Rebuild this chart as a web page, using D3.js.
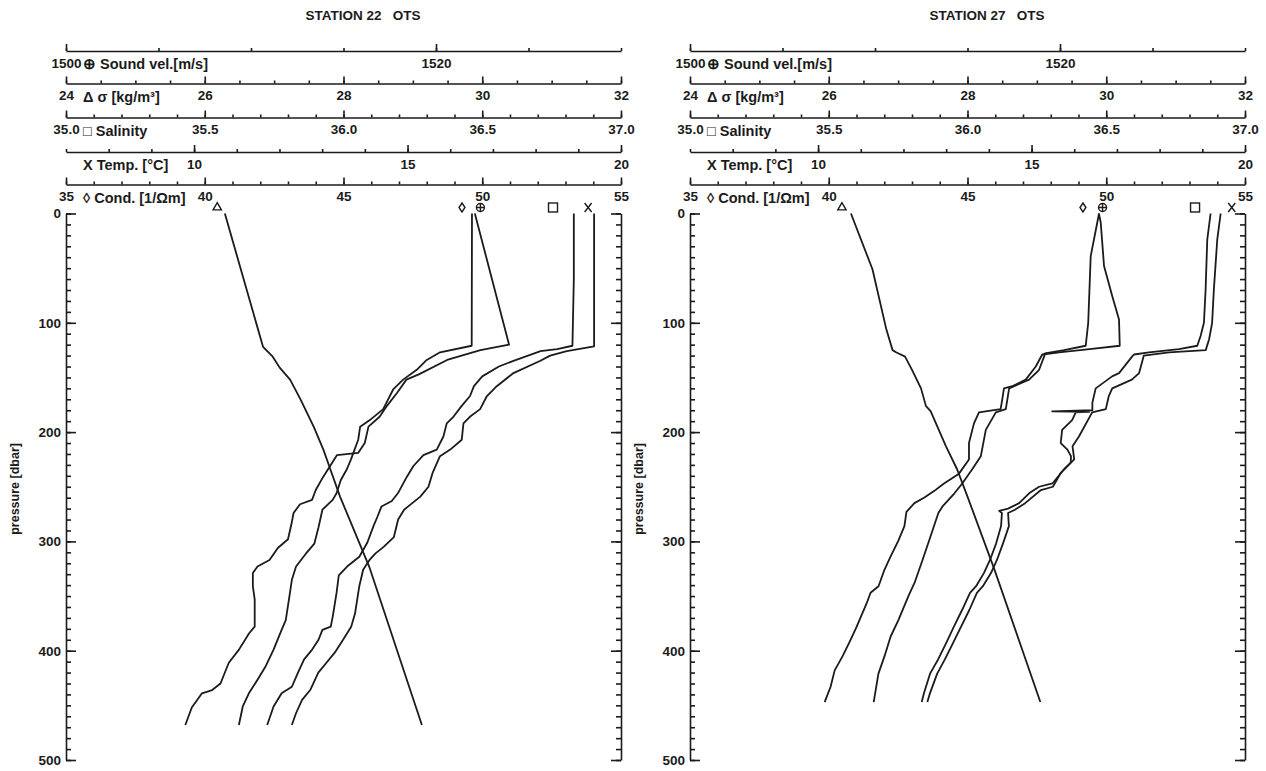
<!DOCTYPE html>
<html>
<head>
<meta charset="utf-8">
<script src="https://cdn.jsdelivr.net/npm/d3@7"></script>
<style>
body { margin: 0; background: #fff; }
text { font-family: "Liberation Sans", Arial, sans-serif; font-weight: bold; font-size: 13.5px; fill: #1b1b1b; }
</style>
</head>
<body>
<svg id="chart" width="1266" height="771"></svg>
<script>
// top axes, in the order they are stacked
const axisNames = ["\u2295 Sound vel.[m/s]", "\u0394 \u03c3 [kg/m\u00b3]", "\u25a1 Salinity", "X Temp. [\u00b0C]", "\u25ca Cond. [1/\u03a9m]"];
const axisDomains = [[1500, 1530], [24, 32], [35, 37], [7, 20], [35, 55]];
const axisMinorSteps = [5, 0.5, 0.1, 1, 1];
const axisLabels = [[1500, 1520], [24, 26, 28, 30, 32], [35.0, 35.5, 36.0, 36.5, 37.0], [10, 15, 20], [35, 40, 45, 50, 55]];
const axisFormats = ["d", "d", ".1f", "d", "d"];

const pressureDomain = [0, 500];
const pressureLabels = [0, 100, 200, 300, 400, 500];

// station 22: [pressure dbar, value]
const s22Sound = [[0,1522.1],[120,1523.95],[125,1522.4],[134,1520.6],[147,1519.1],[152,1518.4],[164,1517.9],[176,1517.35],[186,1516.95],[195,1516.35],[210,1516.15],[219,1515.8],[221,1514.65],[241,1513.9],[253,1513.5],[262,1513.3],[266,1512.65],[274,1512.3],[283,1512.2],[298,1512.0],[306,1511.45],[317,1511.0],[323,1510.35],[329,1510.1],[341,1510.1],[353,1510.2],[378,1510.2],[384,1509.9],[399,1509.35],[411,1508.8],[430,1508.35],[436,1507.9],[439,1507.35],[452,1506.8],[468,1506.45]];
const s22Sigma = [[0,26.29],[60,26.56],[122,26.84],[131,26.98],[141,27.08],[152,27.23],[170,27.38],[195,27.57],[216,27.71],[234,27.81],[259,27.95],[323,28.37],[468,29.13]];
const s22Sal = [[0,36.83],[60,36.83],[121,36.825],[124,36.77],[126,36.71],[135,36.61],[140,36.56],[149,36.5],[158,36.47],[167,36.456],[176,36.426],[186,36.396],[192,36.372],[204,36.36],[216,36.336],[221,36.288],[231,36.252],[241,36.228],[256,36.196],[263,36.174],[268,36.137],[277,36.123],[286,36.108],[301,36.086],[314,36.057],[323,36.013],[331,35.983],[347,35.975],[369,35.961],[378,35.954],[381,35.924],[390,35.91],[399,35.887],[408,35.858],[420,35.836],[433,35.814],[439,35.777],[451,35.748],[468,35.725]];
const s22Temp = [[0,19.37],[121.5,19.37],[126,18.73],[130,18.34],[135,18.1],[146,17.48],[158,17.09],[167,16.86],[179,16.7],[186,16.46],[192,16.31],[207,16.27],[216,16.0],[222,15.76],[237,15.59],[250,15.49],[259,15.3],[265,15.11],[271,14.92],[280,14.78],[296,14.68],[305,14.44],[311,14.25],[317,14.11],[326,13.96],[341,13.87],[366,13.77],[378,13.68],[390,13.49],[402,13.29],[411,13.1],[420,12.91],[436,12.72],[445,12.53],[457,12.39],[468,12.29]];
const s22Cond = [[0,49.63],[121,49.62],[127,48.48],[134,48.0],[143,47.64],[152,47.15],[161,46.79],[179,46.43],[189,45.95],[195,45.6],[207,45.53],[225,45.27],[234,45.12],[244,44.9],[256,44.75],[262,44.61],[271,44.24],[287,44.1],[302,43.95],[311,43.65],[323,43.29],[335,43.14],[347,43.07],[372,42.92],[381,42.77],[399,42.48],[415,42.18],[427,41.89],[439,41.59],[451,41.37],[468,41.23]];
const s22Markers = [1522.4, 26.18, 36.755, 19.23, 49.27];

// station 27
const s27Sound = [[0,1522.1],[8,1522.2],[48,1522.38],[76,1522.83],[97,1523.19],[121,1523.23],[124,1521.6],[127,1519.95],[129,1519.04],[140,1518.69],[152,1518.15],[158,1517.42],[160,1516.97],[170,1516.88],[179,1516.79],[182,1515.62],[192,1515.35],[210,1515.08],[225,1515.08],[238,1514.54],[247,1513.73],[254,1513.19],[260,1512.65],[265,1512.13],[273,1511.7],[286,1511.59],[299,1511.27],[314,1510.84],[326,1510.51],[341,1510.19],[347,1509.76],[357,1509.54],[378,1509.01],[390,1508.68],[405,1508.25],[418,1507.82],[433,1507.6],[447,1507.28]];
const s27Sigma = [[0,26.32],[51,26.63],[106,26.83],[125,26.92],[127,26.97],[131,27.1],[143,27.2],[160,27.33],[176,27.4],[181,27.47],[213,27.69],[234,27.85],[259,28.0],[326,28.39],[447,29.05]];
const s27Sal = [[0,36.876],[24,36.864],[70,36.858],[100,36.852],[112,36.84],[121,36.828],[124,36.762],[127,36.654],[129,36.6],[131,36.593],[146,36.546],[149,36.521],[160,36.462],[173,36.45],[180,36.45],[181,36.305],[181.5,36.438],[182,36.39],[189,36.377],[198,36.341],[210,36.336],[216,36.36],[222,36.373],[228,36.372],[234,36.348],[247,36.306],[250,36.258],[256,36.222],[265,36.186],[270,36.146],[272,36.114],[274,36.124],[286,36.121],[302,36.103],[317,36.081],[329,36.059],[341,36.031],[347,36.009],[363,35.98],[378,35.951],[393,35.923],[408,35.894],[421,35.865],[439,35.843],[447,35.835]];
const s27Temp = [[0,19.43],[24,19.35],[70,19.27],[100,19.23],[115,19.16],[125,19.08],[127,18.22],[130,17.63],[146,17.52],[152,17.35],[160,16.89],[167,16.81],[179,16.74],[182,16.42],[204,16.11],[213,15.96],[225,16.0],[237,15.69],[250,15.5],[253,15.22],[265,14.85],[271,14.61],[274,14.45],[286,14.47],[302,14.33],[317,14.19],[329,14.05],[341,13.86],[347,13.72],[363,13.54],[378,13.35],[393,13.16],[408,12.97],[421,12.79],[439,12.62],[447,12.56]];
const s27Cond = [[0,49.74],[39,49.44],[100,49.35],[121,49.26],[125,48.48],[128,47.79],[131,47.76],[143,47.58],[152,47.22],[160,46.5],[179,46.38],[182,46.02],[198,45.66],[222,45.48],[234,45.17],[247,44.81],[256,44.53],[268,44.1],[274,43.95],[296,43.66],[317,43.38],[338,43.09],[350,42.87],[372,42.51],[387,42.23],[405,42.01],[421,41.79],[447,41.62]];
const s27Markers = [1522.3, 26.19, 36.82, 19.69, 49.16];

const ink = "#1b1b1b";
const svg = d3.select("#chart");
const rowY = [51, 83.5, 117.5, 152, 184.5];
const plotW = 555;

const y = d3.scaleLinear().domain(pressureDomain).range([213.5, 760]);

const styleAxis = sel => {
    sel.attr("color", ink).attr("font-size", null).attr("font-family", null);
    sel.selectAll("path, line").attr("stroke-width", 1.6);
};

const drawMarker = (g, kind, cx, cy) => {
    const m = g.append("g").attr("transform", `translate(${cx},${cy})`)
        .attr("fill", "none").attr("stroke", ink).attr("stroke-width", 1.4);
    if (kind === 0) {
        m.append("circle").attr("r", 4);
        m.append("path").attr("d", "M-4,0H4M0,-4V4");
    } else if (kind === 1) {
        m.append("path").attr("d", d3.symbol(d3.symbolTriangle, 30)());
    } else if (kind === 2) {
        m.append("rect").attr("x", -4.5).attr("y", -4.5).attr("width", 9).attr("height", 9);
    } else if (kind === 3) {
        m.append("path").attr("d", "M-3.5,-4.5L3.5,4.5M3.5,-4.5L-3.5,4.5");
    } else {
        m.append("path").attr("d", "M0,-4.5L3,0L0,4.5L-3,0Z");
    }
};

const drawPanel = (x0, title, profiles, markers) => {
    const x1 = x0 + plotW;
    const g = svg.append("g");

    g.append("text").attr("x", x0 + 297).attr("y", 20)
        .attr("text-anchor", "middle").attr("xml:space", "preserve")
        .text(title);

    const scales = axisDomains.map(d => d3.scaleLinear().domain(d).range([x0, x1]));

    scales.forEach((sc, i) => {
        const [a, b] = axisDomains[i];
        const minor = d3.range(a, b + axisMinorSteps[i] / 2, axisMinorSteps[i]);
        const row = g.append("g").attr("transform", `translate(0,${rowY[i]})`);
        row.append("g").call(d3.axisTop(sc).tickValues(minor).tickSize(3).tickSizeOuter(0).tickFormat(""))
            .call(styleAxis);
        row.append("g").call(d3.axisTop(sc).tickValues(axisLabels[i]).tickSize(7).tickSizeOuter(0).tickFormat(""))
            .call(styleAxis).select(".domain").remove();
        row.append("g").call(d3.axisBottom(sc).tickValues(axisLabels[i]).tickSize(0).tickPadding(7)
                .tickFormat(d3.format(axisFormats[i])))
            .call(styleAxis).call(s => s.select(".domain").remove());
        row.append("text").attr("x", x0 + 17).attr("y", 18).style("font-size", "14.5px").text(axisNames[i]);
    });

    // pressure axes, ticks pointing inwards
    const minorP = d3.range(0, 501, 10);
    g.append("g").attr("transform", `translate(${x0},0)`)
        .call(d3.axisRight(y).tickValues(minorP).tickSize(5).tickSizeOuter(0).tickFormat(""))
        .call(styleAxis);
    g.append("g").attr("transform", `translate(${x0},0)`)
        .call(d3.axisRight(y).tickValues(pressureLabels).tickSize(10).tickFormat(""))
        .call(styleAxis).call(s => s.select(".domain").remove());
    g.append("g").attr("transform", `translate(${x0},0)`)
        .call(d3.axisLeft(y).tickValues(pressureLabels).tickSize(0).tickPadding(5))
        .call(styleAxis).call(s => s.select(".domain").remove());
    g.append("g").attr("transform", `translate(${x1},0)`)
        .call(d3.axisLeft(y).tickValues(minorP).tickSize(5).tickSizeOuter(0).tickFormat(""))
        .call(styleAxis);
    g.append("g").attr("transform", `translate(${x1},0)`)
        .call(d3.axisLeft(y).tickValues(pressureLabels).tickSize(10).tickFormat(""))
        .call(styleAxis).call(s => s.select(".domain").remove());

    g.append("text")
        .attr("transform", `translate(${x0 - 47},${y(252)}) rotate(-90)`)
        .attr("text-anchor", "middle").style("font-size", "12.5px")
        .text("pressure [dbar]");

    profiles.forEach((prof, i) => {
        const line = d3.line().x(d => scales[i](d[1])).y(d => y(d[0]));
        g.append("path").datum(prof).attr("d", line)
            .attr("fill", "none").attr("stroke", ink).attr("stroke-width", 1.8)
            .attr("stroke-linejoin", "round");
        drawMarker(g, i, scales[i](markers[i]), y(-5.5));
    });
};

drawPanel(66, "STATION 22   OTS", [s22Sound, s22Sigma, s22Sal, s22Temp, s22Cond], s22Markers);
drawPanel(690, "STATION 27   OTS", [s27Sound, s27Sigma, s27Sal, s27Temp, s27Cond], s27Markers);
</script>
</body>
</html>
